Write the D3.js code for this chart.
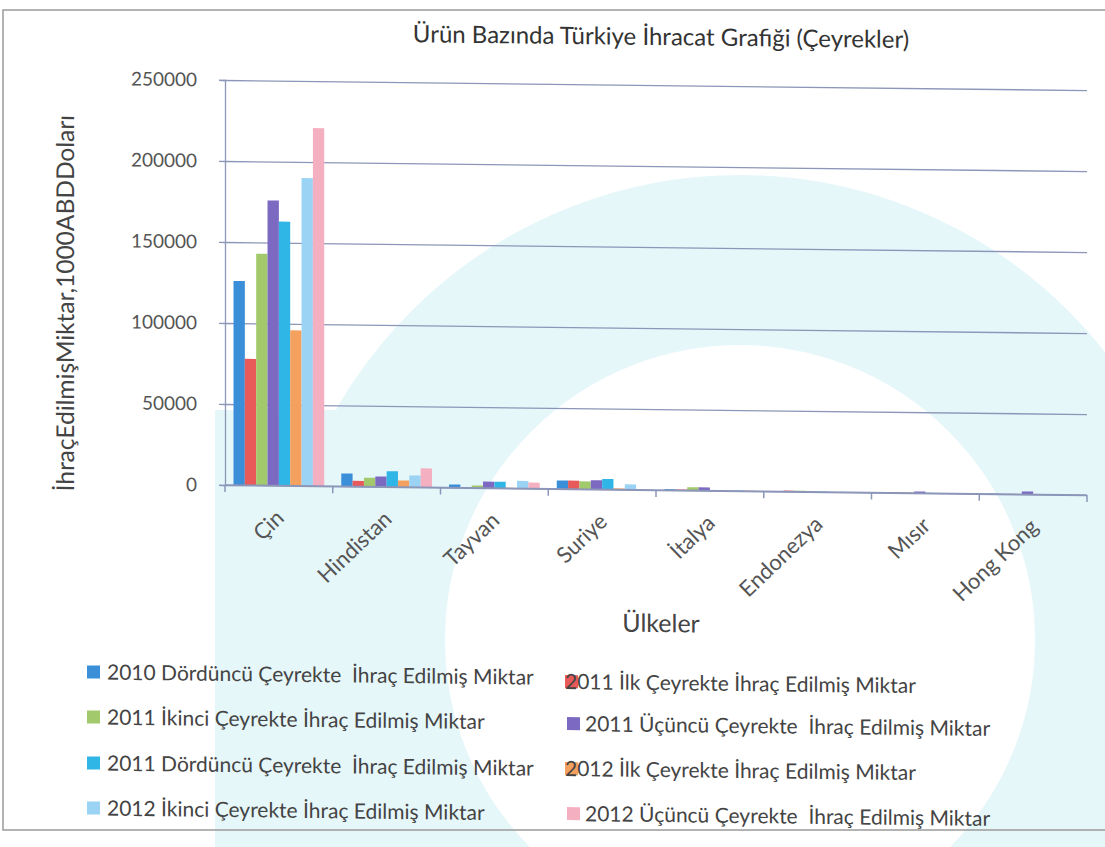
<!DOCTYPE html>
<html>
<head>
<meta charset="utf-8">
<script src="https://cdn.jsdelivr.net/npm/d3@7"></script>
<style>
  body { margin: 0; background: #fff; }
  text { font-family: Lato, "Open Sans", sans-serif; }
</style>
</head>
<body>
<svg id="chart"></svg>
<script>
// categories (countries)
const categories = ["Çin", "Hindistan", "Tayvan", "Suriye", "İtalya", "Endonezya", "Mısır", "Hong Kong"];

// one array per quarter, values in 1000 USD, same order as categories
const q2010_4 = [126000, 8000, 2000, 5200, 700, 200, 300, 200];
const q2011_1 = [78000, 3500, 300, 5200, 500, 600, 200, 100];
const q2011_2 = [143000, 5500, 1500, 4800, 2000, 600, 300, 200];
const q2011_3 = [176000, 6400, 4000, 5600, 2000, 300, 1000, 1800];
const q2011_4 = [163000, 9700, 4000, 6500, 300, 200, 200, 200];
const q2012_1 = [96000, 4100, 300, 800, 200, 100, 100, 100];
const q2012_2 = [190000, 7200, 4700, 3300, 500, 200, 200, 200];
const q2012_3 = [221000, 11700, 3700, 500, 300, 100, 100, 100];

const seriesNames = [
  "2010 Dördüncü Çeyrekte  İhraç Edilmiş Miktar",
  "2011 İlk Çeyrekte İhraç Edilmiş Miktar",
  "2011 İkinci Çeyrekte İhraç Edilmiş Miktar",
  "2011 Üçüncü Çeyrekte  İhraç Edilmiş Miktar",
  "2011 Dördüncü Çeyrekte  İhraç Edilmiş Miktar",
  "2012 İlk Çeyrekte İhraç Edilmiş Miktar",
  "2012 İkinci Çeyrekte İhraç Edilmiş Miktar",
  "2012 Üçüncü Çeyrekte  İhraç Edilmiş Miktar"
];
const seriesValues = [q2010_4, q2011_1, q2011_2, q2011_3, q2011_4, q2012_1, q2012_2, q2012_3];
const seriesColors = ["#3b8fd9", "#e85a5a", "#a2c96c", "#7c69c2", "#30b6e6", "#f4a05e", "#9ad3f4", "#f4b0c0"];

const yTicks = [0, 50000, 100000, 150000, 200000, 250000];

const W = 1105, H = 847;
const svg = d3.select("#chart").attr("width", W).attr("height", H);

// faint watermark shapes of the scanned page
const wm = svg.append("g");
wm.append("circle").attr("cx", 740).attr("cy", 640).attr("r", 380)
  .attr("fill", "none").attr("stroke", "#e6f7fa").attr("stroke-width", 170);
wm.append("rect").attr("x", 215).attr("y", 410).attr("width", 130).attr("height", 437)
  .attr("fill", "#e6f7fa");

// outer frame
svg.append("rect").attr("x", 3).attr("y", 10).attr("width", 1120).attr("height", 820)
  .attr("fill", "none").attr("stroke", "#9a9a9a").attr("stroke-width", 1.5);

// the scan is slightly slanted
const g = svg.append("g").attr("transform", "translate(225,0) skewY(0.67) translate(-225,0)");

const plotL = 225, plotR = 1087, plotT = 80, plotB = 485;

const x0 = d3.scaleBand().domain(categories).range([plotL, plotR]);
const x1 = d3.scaleBand().domain(d3.range(seriesValues.length))
  .range([0, x0.bandwidth()]).paddingOuter(0.75);
const y = d3.scaleLinear().domain([0, 250000]).range([plotB, plotT]);

const axisColor = "#8c96b8";

// gridlines
g.append("g").attr("transform", `translate(${plotL},0)`)
  .call(d3.axisLeft(y).tickValues(yTicks).tickSize(-(plotR - plotL)).tickFormat(""))
  .call(a => a.select(".domain").remove())
  .call(a => a.selectAll("line").attr("stroke", axisColor).attr("stroke-width", 1.3));

// y axis with labels
g.append("g").attr("transform", `translate(${plotL},0)`)
  .call(d3.axisLeft(y).tickValues(yTicks).tickSize(6).tickPadding(22).tickFormat(d3.format("d")))
  .call(a => a.select(".domain").attr("stroke", axisColor).attr("stroke-width", 1.3))
  .call(a => a.selectAll("line").attr("stroke", axisColor).attr("stroke-width", 1.3))
  .call(a => a.selectAll("text").attr("fill", "#555").style("font-size", "19px")
    .style("font-family", "Lato, 'Open Sans', sans-serif"));

// bars
const groups = g.append("g").selectAll("g").data(categories).join("g")
  .attr("transform", d => `translate(${x0(d)},0)`);
groups.selectAll("rect")
  .data((c, ci) => seriesValues.map((s, si) => ({ si: si, v: s[ci] })))
  .join("rect")
  .attr("x", d => x1(d.si))
  .attr("width", x1.bandwidth())
  .attr("y", d => y(d.v))
  .attr("height", d => y(0) - y(d.v))
  .attr("fill", d => seriesColors[d.si]);

// x axis line and ticks at band edges
g.append("line").attr("x1", plotL).attr("x2", plotR).attr("y1", plotB).attr("y2", plotB)
  .attr("stroke", axisColor).attr("stroke-width", 1.5);
g.append("g").selectAll("line")
  .data(categories.map(c => x0(c)).concat([plotR]))
  .join("line")
  .attr("x1", d => d).attr("x2", d => d)
  .attr("y1", plotB).attr("y2", plotB + 7)
  .attr("stroke", axisColor).attr("stroke-width", 1.5);

// category labels
g.append("g").selectAll("text").data(categories).join("text")
  .attr("transform", d => `translate(${x0(d) + x0.bandwidth() / 2 - 5},${plotB + 22}) rotate(-44)`)
  .attr("text-anchor", "end")
  .attr("dy", "0.75em")
  .attr("fill", "#555")
  .style("font-size", "22px")
  .text(d => d);

// titles
g.append("text").attr("x", 661).attr("y", 40).attr("text-anchor", "middle")
  .attr("fill", "#333").style("font-size", "24px")
  .text("Ürün Bazında Türkiye İhracat Grafiği (Çeyrekler)");

g.append("text").attr("x", 661).attr("y", 627).attr("text-anchor", "middle")
  .attr("fill", "#444").style("font-size", "25px")
  .text("Ülkeler");

g.append("text").attr("transform", "translate(74,305) rotate(-90)")
  .attr("text-anchor", "middle").attr("fill", "#444").style("font-size", "24.5px")
  .text("İhraçEdilmişMiktar,1000ABDDoları");

// legend, two columns
const legendPos = [
  { sx: 87, tx: 107, y: 681 }, { sx: 565, tx: 565, y: 685 },
  { sx: 87, tx: 107, y: 726 }, { sx: 567, tx: 585, y: 727 },
  { sx: 87, tx: 107, y: 772 }, { sx: 565, tx: 565, y: 772 },
  { sx: 87, tx: 107, y: 817 }, { sx: 567, tx: 585, y: 817 }
];
const leg = g.append("g").selectAll("g").data(seriesNames).join("g");
leg.append("rect")
  .attr("x", (d, i) => legendPos[i].sx)
  .attr("y", (d, i) => legendPos[i].y - 14)
  .attr("width", 13).attr("height", 13)
  .attr("fill", (d, i) => seriesColors[i]);
leg.append("text")
  .attr("x", (d, i) => legendPos[i].tx)
  .attr("y", (d, i) => legendPos[i].y)
  .attr("fill", "#444")
  .attr("xml:space", "preserve")
  .style("white-space", "pre")
  .style("font-size", "21px")
  .text(d => d);
</script>
</body>
</html>
